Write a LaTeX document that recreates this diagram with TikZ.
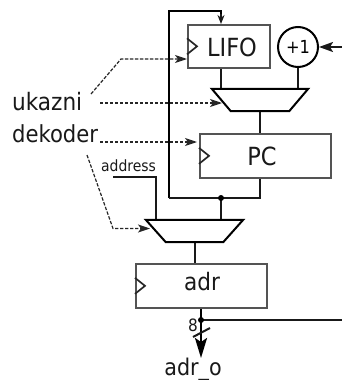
\documentclass[tikz,border=0pt]{standalone}
\usepackage{fontspec}
\setmainfont{DejaVu Sans Condensed}
\usetikzlibrary{arrows.meta,calc}
\definecolor{boxgray}{gray}{0.33}
\tikzset{
  x=1pt,y=-1pt,
  regbox/.style={draw=boxgray,line width=1.7pt,fill=white,inner sep=0pt,anchor=north west},
  clk/.style={draw=black!85,line width=1.7pt},
  wire/.style={draw=black!90,line width=2pt},
  bus/.style={draw=black,line width=2.4pt},
  ctl/.style={draw=black!85,line width=1.2pt,dash pattern=on 3.4pt off 1.6pt,-{Stealth[length=12pt,width=8pt,inset=3pt,sep=0pt]}},
  muxbody/.style={draw=black,line width=2pt,fill=white,line join=miter},
  lab/.style={inner sep=0pt,text=black!90},
  dot/.style={circle,fill=black,inner sep=0pt,minimum size=6pt},
}
\newcommand{\regclock}[1]{\draw[clk] ($(#1.west)+(0,-8)$) -- ($(#1.west)+(10,0)$) -- ($(#1.west)+(0,8)$);}
\begin{document}
\begin{tikzpicture}
\useasboundingbox (0,0) rectangle (342,380);
% named points
\coordinate (topleft) at (169,11);
\coordinate (topright) at (221,11);
\coordinate (botleft) at (169,198);
\coordinate (j1) at (260,198);
\coordinate (lifoin) at (221,67);
\coordinate (m1a) at (221,89);
\coordinate (m1b) at (298,89);
\coordinate (addrs) at (113,177);
\coordinate (m2a) at (156,220);
\coordinate (m2b) at (221,220);
\coordinate (right1) at (342,320);
\coordinate (incin) at (342,47);
\coordinate (dotsrc) at (201,320);
\coordinate (tip) at (201,358);
\coordinate (c1a) at (91,94);
\coordinate (c1b) at (121,59);
\coordinate (c1c) at (187,59);
\coordinate (c2a) at (100,103);
\coordinate (c2b) at (222,103);
\coordinate (c3a) at (100,142);
\coordinate (c3b) at (197,142);
\coordinate (c4a) at (87,155);
\coordinate (c4b) at (113,228.5);
\coordinate (c4c) at (150,228.5);
\coordinate (m1out) at (260,111);
\coordinate (pcin) at (260,133);
\coordinate (pcout) at (260,177);
\coordinate (m2out) at (195,242);
\coordinate (adrin) at (195,263);
\coordinate (adrout) at (201,307);
% wires
\draw[bus] (botleft) -- (topleft) -- (topright) -- (221,16);
\draw[wire,-{Stealth[length=9pt,width=7pt]}] (221,14) -- (221,24);
\draw[wire] (botleft) -- (j1) -- (pcout);
\draw[wire] (m1a) -- (lifoin);
\draw[wire] (m1b) -- (298,67);
\draw[wire] (m1out) -- (pcin);
\draw[wire] (addrs) -- (156,177) -- (m2a);
\draw[wire] (m2b) -- (221,198);
\draw[wire] (m2out) -- (adrin);
\draw[wire] (dotsrc) -- (right1);
\draw[bus,-{Stealth[length=20pt,width=12pt,inset=4pt]}] (adrout) -- (tip);
\draw[wire] (193,337) -- (210,328);
% boxes
\node[regbox,minimum width=82pt,minimum height=43pt] (lifo) at (187,24) {};
\node[font=\fontsize{25}{25}\selectfont,lab] (lifot) at (232,47) {LIFO};
\regclock{lifo}
\node[regbox,minimum width=131pt,minimum height=44pt] (pc) at (199,133) {};
\node[font=\fontsize{25}{25}\selectfont,lab] (pct) at (262,156) {PC};
\regclock{pc}
\node[regbox,minimum width=131pt,minimum height=44pt] (adr) at (135,263) {};
\node[font=\fontsize{24}{24}\selectfont,lab] (adrt) at (202,282) {adr};
\regclock{adr}
\node[circle,draw=black,line width=2pt,minimum size=40pt,inner sep=0pt,font=\fontsize{18}{18}\selectfont] (inc) at (298,47) {+1};
\draw[wire,-{Stealth[length=14pt,width=10pt,inset=3pt]}] (incin) -- (inc.east);
% muxes
\node[inner sep=0pt,minimum width=96pt,minimum height=22pt] (mux1) at (260,100) {};
\draw[muxbody] (mux1.north west) -- (mux1.north east) -- ($(mux1.south east)+(-19,0)$) -- ($(mux1.south west)+(19,0)$) -- cycle;
\node[inner sep=0pt,minimum width=97pt,minimum height=22pt] (mux2) at (194.5,231) {};
\draw[muxbody] (mux2.north west) -- (mux2.north east) -- ($(mux2.south east)+(-20,0)$) -- ($(mux2.south west)+(20,0)$) -- cycle;
% dots
\node[dot] (d1) at (221,198) {};
\node[dot] (d2) at (dotsrc) {};
% control
\draw[ctl] (c1a) -- (c1b) -- (c1c);
\draw[ctl] (c2a) -- (c2b);
\draw[ctl] (c3a) -- (c3b);
\draw[ctl] (c4a) -- (c4b) -- (c4c);
% labels
\node[lab,font=\fontsize{24}{24}\selectfont,anchor=base west] (uk) at (12,110) {ukazni};
\node[lab,font=\fontsize{23.5}{24}\selectfont,anchor=base west] (de) at (12,142) {dekoder};
\node[lab,font=\fontsize{15.5}{15.5}\selectfont,anchor=base west] (ad) at (101,171) {address};
\node[lab,font=\fontsize{17}{17}\selectfont] (eight) at (193,325) {8};
\node[lab,font=\fontsize{23}{23}\selectfont,anchor=base] (ao) at (193,375) {adr\_o};
\end{tikzpicture}
\end{document}
